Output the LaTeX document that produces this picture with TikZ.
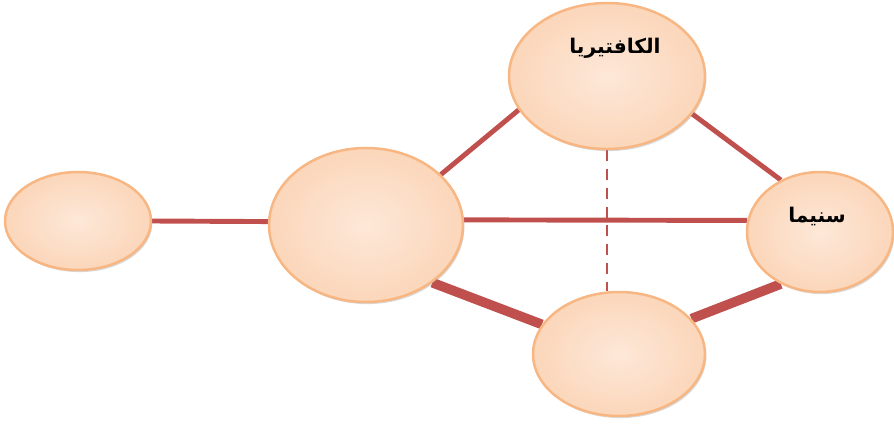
\documentclass[tikz,border=0pt]{standalone}
\usepackage{fontspec}
\newfontfamily\arabicfont[Script=Arabic]{DejaVu Sans}
\TeXXeTstate=1
\usetikzlibrary{shapes.geometric,shadows,backgrounds}
\definecolor{edgered}{RGB}{192,80,77}
\definecolor{peachline}{RGB}{247,182,130}
\definecolor{peachin}{RGB}{253,232,216}
\definecolor{peachout}{RGB}{251,214,186}
\tikzstyle{place}=[ellipse,draw=peachline,line width=1.4pt,inner color=peachin,outer color=peachout,
  drop shadow={shadow xshift=0.8pt,shadow yshift=-1.2pt,opacity=0.3},inner sep=0pt]
\tikzstyle{road} = [draw,edgered,line width=2.8pt]
\tikzstyle{mainroad} = [draw,edgered,line width=5.5pt]
\tikzstyle{footpath} = [draw,edgered,line width=1.1pt,dash pattern=on 6.2pt off 4.5pt]
\tikzstyle{lbl} = [font=\arabicfont\bfseries\fontsize{11.5}{13}\selectfont,inner sep=0pt]

\begin{document}
\begin{tikzpicture}
\useasboundingbox (0,0) rectangle (17.88,8.54);

    \foreach \pos/ \name/ \w/ \h in {{(1.56,4.12)/lft/2.92/1.96}, {(7.32,4.04)/mid/3.88/3.08}, {(12.14,7.02)/cafe/3.92/2.92}, {(16.4,3.9)/cinema/2.92/2.4}, {(12.38,1.46)/bot/3.44/2.48}}
        \node[place,minimum width=\w cm,minimum height=\h cm] (\name) at \pos {};

    \node[lbl] (cafelbl) at (12.3,7.58) {\beginR الكافتيريا\endR};
    \node[lbl] (cinemalbl) at (16.34,4.22) {\beginR سنيما\endR};

    % roads between the places
    \begin{scope}[on background layer]
    \path[footpath] (cafe.south) -- (cafe.south |- bot.north);
    \foreach \source/ \dest in {lft.east/mid.178, mid.3/cinema.171, mid.34/cafe.201, cafe.336/cinema.127}
        \path[road] (\source) -- (\dest);
    \foreach \source/ \dest in {mid.319/bot.159, bot.26/cinema.233}
        \path[mainroad] (\source) -- (\dest);
    \end{scope}

\end{tikzpicture}
\end{document}
